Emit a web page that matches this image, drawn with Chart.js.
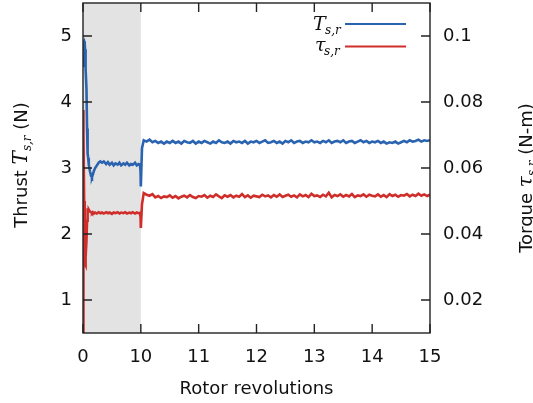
<!DOCTYPE html>
<html>
<head>
<meta charset="utf-8">
<script src="https://cdn.jsdelivr.net/npm/chart.js@4/dist/chart.umd.min.js"></script>
<style>
html,body{margin:0;padding:0;background:#fff;}
#wrap{width:533px;height:403px;}
</style>
</head>
<body>
<div id="wrap"><canvas id="c" width="533" height="403"></canvas></div>
<script>
// ---- data ----
const xTickValues = [0, 10, 11, 12, 13, 14, 15];
const thrustTicks = [1, 2, 3, 4, 5];
const torqueTicks = [0.02, 0.04, 0.06, 0.08, 0.1];
const torqueTickLabels = ['0.02', '0.04', '0.06', '0.08', '0.1'];
const shadedRevs = [0, 10];

const revsStart = [0, 0.05, 0.1, 0.2, 0.3, 0.35, 0.4, 0.5, 0.6, 0.7, 0.75, 0.8, 0.85, 0.9, 1.0, 1.2, 1.4, 1.55, 1.7, 1.9,
  2.1, 2.4, 2.7, 3.0, 3.3, 3.6, 4.0, 4.3, 4.6, 5.0, 5.3, 5.6, 6.0, 6.3, 6.6, 7.0, 7.3, 7.6, 8.0, 8.3,
  8.6, 9.0, 9.3, 9.6, 9.85, 9.95, 10.0];
const thrustStart = [4.55, 4.85, 4.9, 4.92, 4.88, 4.8, 4.7, 4.5, 4.2, 3.6, 3.25, 3.2, 3.22, 3.15, 3.05, 2.95, 2.88, 2.86, 2.9, 2.96,
  3.0, 3.04, 3.08, 3.1, 3.08, 3.1, 3.06, 3.09, 3.05, 3.08, 3.04, 3.07, 3.05, 3.08, 3.04, 3.07, 3.05, 3.08, 3.04, 3.06,
  3.05, 3.08, 3.04, 3.06, 3.05, 2.95, 2.72];
const torqueStart = [0.005, 0.0776, 0.07, 0.05, 0.035, 0.031, 0.0306, 0.033, 0.038, 0.044, 0.0472, 0.0478, 0.0476, 0.047, 0.0474, 0.0468, 0.0466, 0.0463, 0.0466, 0.0462,
  0.0465, 0.0462, 0.0466, 0.0463, 0.0465, 0.0462, 0.0466, 0.0463, 0.0465, 0.0461, 0.0465, 0.0463, 0.0466, 0.0462, 0.0465, 0.0463, 0.0466, 0.0462, 0.0465, 0.0463,
  0.0466, 0.0462, 0.0465, 0.0463, 0.0464, 0.045, 0.0418];

const revsRun = [10.02,
  10.05, 10.10, 10.15, 10.20, 10.25, 10.30, 10.35, 10.40, 10.45, 10.50,
  10.55, 10.60, 10.65, 10.70, 10.75, 10.80, 10.85, 10.90, 10.95, 11.00,
  11.05, 11.10, 11.15, 11.20, 11.25, 11.30, 11.35, 11.40, 11.45, 11.50,
  11.55, 11.60, 11.65, 11.70, 11.75, 11.80, 11.85, 11.90, 11.95, 12.00,
  12.05, 12.10, 12.15, 12.20, 12.25, 12.30, 12.35, 12.40, 12.45, 12.50,
  12.55, 12.60, 12.65, 12.70, 12.75, 12.80, 12.85, 12.90, 12.95, 13.00,
  13.05, 13.10, 13.15, 13.20, 13.25, 13.30, 13.35, 13.40, 13.45, 13.50,
  13.55, 13.60, 13.65, 13.70, 13.75, 13.80, 13.85, 13.90, 13.95, 14.00,
  14.05, 14.10, 14.15, 14.20, 14.25, 14.30, 14.35, 14.40, 14.45, 14.50,
  14.55, 14.60, 14.65, 14.70, 14.75, 14.80, 14.85, 14.90, 14.95, 15.00];
const thrustRun = [3.30,
  3.42, 3.40, 3.43, 3.39, 3.41, 3.38, 3.40, 3.37, 3.40, 3.38,
  3.41, 3.38, 3.40, 3.37, 3.41, 3.39, 3.38, 3.41, 3.37, 3.40,
  3.38, 3.41, 3.39, 3.37, 3.40, 3.38, 3.42, 3.39, 3.38, 3.40,
  3.37, 3.41, 3.39, 3.40, 3.38, 3.41, 3.37, 3.40, 3.39, 3.41,
  3.38, 3.40, 3.42, 3.38, 3.39, 3.41, 3.38, 3.40, 3.37, 3.41,
  3.39, 3.42, 3.38, 3.40, 3.41, 3.38, 3.40, 3.39, 3.42, 3.39,
  3.40, 3.38, 3.41, 3.39, 3.42, 3.38, 3.40, 3.41, 3.39, 3.42,
  3.38, 3.40, 3.41, 3.38, 3.40, 3.42, 3.39, 3.41, 3.38, 3.40,
  3.39, 3.41, 3.38, 3.40, 3.37, 3.39, 3.38, 3.40, 3.37, 3.39,
  3.41, 3.39, 3.42, 3.40, 3.41, 3.43, 3.40, 3.42, 3.41, 3.42];
const torqueRun = [0.0490,
  0.0524, 0.0519, 0.0516, 0.0521, 0.0511, 0.0515, 0.0509, 0.0514, 0.0512, 0.0517,
  0.0510, 0.0515, 0.0508, 0.0513, 0.0516, 0.0511, 0.0518, 0.0512, 0.0509, 0.0515,
  0.0513, 0.0518, 0.0510, 0.0516, 0.0512, 0.0520, 0.0514, 0.0509, 0.0517, 0.0513,
  0.0518, 0.0511, 0.0516, 0.0513, 0.0521, 0.0512, 0.0517, 0.0510, 0.0516, 0.0514,
  0.0512, 0.0519, 0.0514, 0.0517, 0.0511, 0.0518, 0.0513, 0.0520, 0.0512, 0.0516,
  0.0519, 0.0513, 0.0517, 0.0511, 0.0520, 0.0514, 0.0518, 0.0512, 0.0522, 0.0515,
  0.0517, 0.0512, 0.0519, 0.0514, 0.0525, 0.0511, 0.0518, 0.0515, 0.0520, 0.0513,
  0.0518, 0.0514, 0.0521, 0.0512, 0.0517, 0.0515, 0.0520, 0.0513, 0.0519, 0.0516,
  0.0514, 0.0520, 0.0513, 0.0518, 0.0512, 0.0521, 0.0515, 0.0519, 0.0513, 0.0518,
  0.0516, 0.0521, 0.0514, 0.0519, 0.0515, 0.0522, 0.0516, 0.0520, 0.0515, 0.0519];

// ---- broken x axis: 0..10 compressed to one unit, then 10..15 one unit each ----
function axisPos(r) { return r <= 10 ? r / 10 : r - 9; }
function axisRev(p) { return p <= 1 ? p * 10 : p + 9; }

const revs = revsStart.concat(revsRun);
const thrust = thrustStart.concat(thrustRun);
const torque = torqueStart.concat(torqueRun);

const BLUE = '#2a63b0';
const RED = '#cf2e2a';
const SANS = '"DejaVu Sans", sans-serif';
const SERIF = '"DejaVu Serif", "Liberation Serif", serif';
const FS = 18;

const frame = {
  id: 'frame',
  beforeDatasetsDraw(chart) {
    const { ctx, chartArea: a, scales } = chart;
    const x0 = scales.x.getPixelForValue(axisPos(shadedRevs[0]));
    const x1 = scales.x.getPixelForValue(axisPos(shadedRevs[1]));
    ctx.save();
    ctx.fillStyle = '#e3e3e3';
    ctx.fillRect(x0, a.top, x1 - x0, a.bottom - a.top);
    ctx.restore();
  },
  afterDraw(chart) {
    const { ctx, chartArea: a, scales } = chart;
    const TL = 9;
    ctx.save();
    ctx.strokeStyle = '#222';
    ctx.lineWidth = 1.4;
    ctx.strokeRect(a.left, a.top, a.right - a.left, a.bottom - a.top);
    ctx.beginPath();
    xTickValues.forEach(v => {
      const px = scales.x.getPixelForValue(axisPos(v));
      ctx.moveTo(px, a.bottom); ctx.lineTo(px, a.bottom - TL);
      ctx.moveTo(px, a.top); ctx.lineTo(px, a.top + TL);
    });
    thrustTicks.forEach(v => {
      const py = scales.y.getPixelForValue(v);
      ctx.moveTo(a.left, py); ctx.lineTo(a.left + TL, py);
    });
    torqueTicks.forEach(v => {
      const py = scales.y1.getPixelForValue(v);
      ctx.moveTo(a.right, py); ctx.lineTo(a.right - TL, py);
    });
    ctx.stroke();

    // legend
    ctx.fillStyle = '#111';
    ctx.textBaseline = 'alphabetic';
    ctx.textAlign = 'left';
    ctx.font = 'italic 19px ' + SERIF;
    ctx.fillText('T', 313, 30);
    ctx.font = 'italic 12px ' + SERIF;
    ctx.fillText('s,r', 325, 34);
    ctx.font = 'italic 19px ' + SERIF;
    ctx.fillText('τ', 315, 51);
    ctx.font = 'italic 12px ' + SERIF;
    ctx.fillText('s,r', 324, 55);
    ctx.lineWidth = 2;
    ctx.strokeStyle = BLUE;
    ctx.beginPath(); ctx.moveTo(345, 24); ctx.lineTo(406, 24); ctx.stroke();
    ctx.strokeStyle = RED;
    ctx.beginPath(); ctx.moveTo(345, 46.5); ctx.lineTo(406, 46.5); ctx.stroke();

    // axis titles
    function richTitle(parts, cx, cy, rot) {
      ctx.save();
      ctx.translate(cx, cy);
      ctx.rotate(rot);
      let total = 0;
      parts.forEach(p => { ctx.font = p.font; total += ctx.measureText(p.t).width; });
      let x = -total / 2;
      parts.forEach(p => {
        ctx.font = p.font;
        ctx.fillText(p.t, x, p.dy || 0);
        x += ctx.measureText(p.t).width;
      });
      ctx.restore();
    }
    ctx.fillStyle = '#111';
    const sans = FS + 'px ' + SANS;
    richTitle([
      { t: 'Thrust ', font: sans },
      { t: 'T', font: 'italic 20px ' + SERIF },
      { t: 's,r', font: 'italic 12px ' + SERIF, dy: 4 },
      { t: ' (N)', font: sans }
    ], 27, 165, -Math.PI / 2);
    richTitle([
      { t: 'Torque ', font: sans },
      { t: 'τ', font: 'italic 20px ' + SERIF },
      { t: 's,r', font: 'italic 12px ' + SERIF, dy: 4 },
      { t: ' (N-m)', font: sans }
    ], 532, 178, -Math.PI / 2);
    ctx.textAlign = 'center';
    ctx.font = sans;
    ctx.fillText('Rotor revolutions', (a.left + a.right) / 2, 394);
    ctx.restore();
  }
};

function noPad(s) { s.paddingTop = 0; s.paddingBottom = 0; s.paddingLeft = 0; s.paddingRight = 0; }

new Chart(document.getElementById('c'), {
  type: 'line',
  data: {
    datasets: [
      {
        label: 'T_s,r',
        data: revs.map((r, i) => ({ x: axisPos(r), y: thrust[i] })),
        borderColor: BLUE, borderWidth: 2.6, pointRadius: 0, tension: 0, yAxisID: 'y'
      },
      {
        label: 'tau_s,r',
        data: revs.map((r, i) => ({ x: axisPos(r), y: torque[i] })),
        borderColor: RED, borderWidth: 2.6, pointRadius: 0, tension: 0, yAxisID: 'y1'
      }
    ]
  },
  options: {
    responsive: false,
    animation: false,
    devicePixelRatio: 1,
    layout: { padding: { top: 3, left: 0, right: 0, bottom: 0 } },
    plugins: { legend: { display: false }, tooltip: { enabled: false } },
    scales: {
      x: {
        type: 'linear', min: axisPos(0), max: axisPos(15),
        grid: { display: false, drawTicks: false }, border: { display: false },
        afterBuildTicks: s => { s.ticks = xTickValues.map(v => ({ value: axisPos(v) })); },
        ticks: { callback: v => String(Math.round(axisRev(v))), font: { family: SANS, size: FS }, color: '#111', padding: 14, maxRotation: 0 },
        afterFit: s => { s.height = 70; noPad(s); }
      },
      y: {
        type: 'linear', position: 'left', min: 0.5, max: 5.5,
        grid: { display: false, drawTicks: false }, border: { display: false },
        afterBuildTicks: s => { s.ticks = thrustTicks.map(v => ({ value: v })); },
        ticks: { font: { family: SANS, size: FS }, color: '#111', padding: 11 },
        afterFit: s => { s.width = 83; noPad(s); }
      },
      y1: {
        type: 'linear', position: 'right', min: 0.01, max: 0.11,
        grid: { display: false, drawTicks: false }, border: { display: false },
        afterBuildTicks: s => { s.ticks = torqueTicks.map(v => ({ value: v })); },
        ticks: { callback: (v, i) => torqueTickLabels[i], font: { family: SANS, size: FS }, color: '#111', padding: 13 },
        afterFit: s => { s.width = 103; noPad(s); }
      }
    }
  },
  plugins: [frame]
});
</script>
</body>
</html>
